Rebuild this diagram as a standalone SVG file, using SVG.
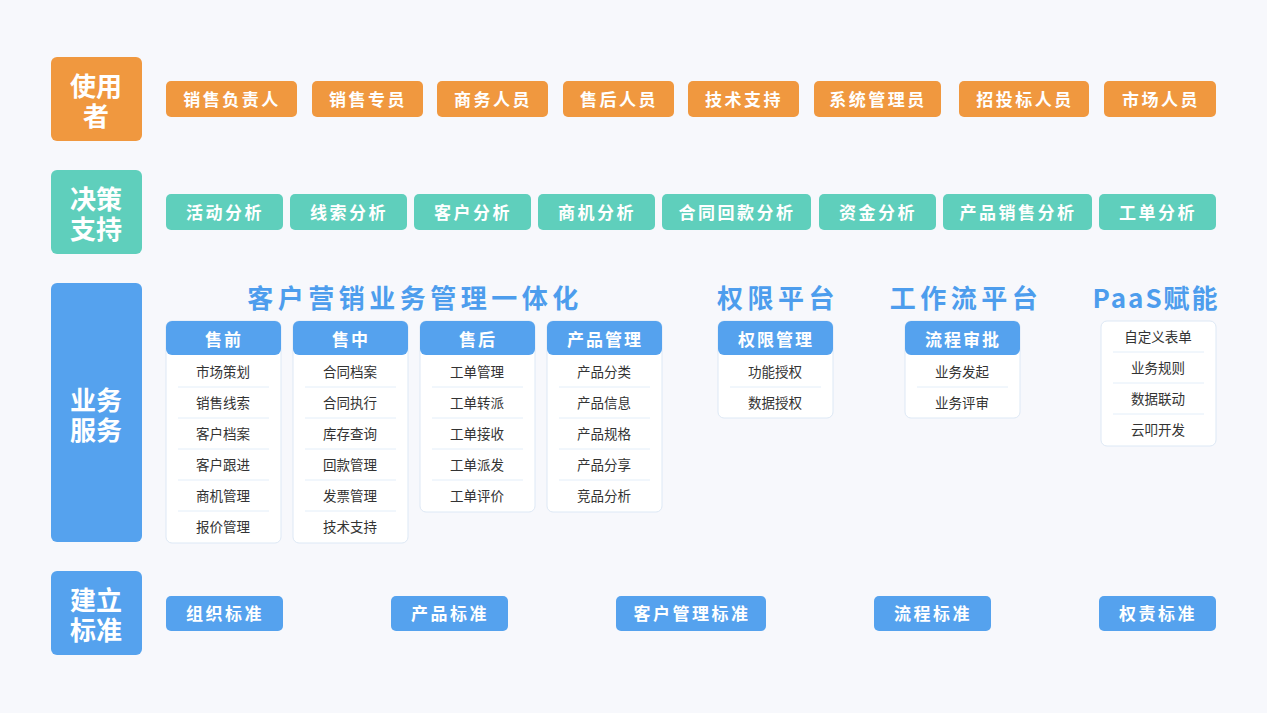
<svg xmlns="http://www.w3.org/2000/svg" width="1267" height="713" viewBox="0 0 1267 713">
<style>
text{font-family:"Noto Sans CJK SC","Noto Sans",sans-serif;text-anchor:middle;dominant-baseline:central}
.o{fill:#f0983f}.t{fill:#5fcfbc}.b{fill:#55a2ee}
.big{fill:#fff;font-size:26px;font-weight:bold}
.btn{fill:#fff;font-size:17px;font-weight:bold;letter-spacing:2.5px}
.ttl{fill:#4d9ded;font-size:26px;font-weight:bold;letter-spacing:4.5px}
.card{fill:#fff;stroke:#dde8f5;stroke-width:1}
.hd{fill:#fff;font-size:17px;font-weight:bold;letter-spacing:2px}
.it{fill:#333;font-size:13.5px}
.sep{stroke:#e3eef9;stroke-width:1}
</style>
<rect width="1267" height="713" fill="#f7f8fc"/>
<g id="row-users">
<rect class="o" x="51" y="57" width="91" height="84" rx="6"/><text class="big" x="96" y="84">使用</text><text class="big" x="96" y="114">者</text>
<g id="u1"><rect class="o" x="166" y="81" width="131" height="36" rx="5"/><text class="btn" x="232" y="98">销售负责人</text></g>
<g id="u2"><rect class="o" x="312" y="81" width="111" height="36" rx="5"/><text class="btn" x="368" y="98">销售专员</text></g>
<g id="u3"><rect class="o" x="437" y="81" width="111" height="36" rx="5"/><text class="btn" x="493" y="98">商务人员</text></g>
<g id="u4"><rect class="o" x="563" y="81" width="111" height="36" rx="5"/><text class="btn" x="619" y="98">售后人员</text></g>
<g id="u5"><rect class="o" x="688" y="81" width="111" height="36" rx="5"/><text class="btn" x="744" y="98">技术支持</text></g>
<g id="u6"><rect class="o" x="814" y="81" width="127" height="36" rx="5"/><text class="btn" x="878" y="98">系统管理员</text></g>
<g id="u7"><rect class="o" x="959" y="81" width="130" height="36" rx="5"/><text class="btn" x="1025" y="98">招投标人员</text></g>
<g id="u8"><rect class="o" x="1104" y="81" width="112" height="36" rx="5"/><text class="btn" x="1161" y="98">市场人员</text></g>
</g>
<g id="row-decision">
<rect class="t" x="51" y="170" width="91" height="84" rx="6"/><text class="big" x="96" y="197">决策</text><text class="big" x="96" y="227">支持</text>
<g id="d1"><rect class="t" x="166" y="194" width="117" height="36" rx="5"/><text class="btn" x="225" y="211">活动分析</text></g>
<g id="d2"><rect class="t" x="290" y="194" width="117" height="36" rx="5"/><text class="btn" x="349" y="211">线索分析</text></g>
<g id="d3"><rect class="t" x="414" y="194" width="117" height="36" rx="5"/><text class="btn" x="473" y="211">客户分析</text></g>
<g id="d4"><rect class="t" x="538" y="194" width="117" height="36" rx="5"/><text class="btn" x="597" y="211">商机分析</text></g>
<g id="d5"><rect class="t" x="662" y="194" width="149" height="36" rx="5"/><text class="btn" x="737" y="211">合同回款分析</text></g>
<g id="d6"><rect class="t" x="819" y="194" width="117" height="36" rx="5"/><text class="btn" x="878" y="211">资金分析</text></g>
<g id="d7"><rect class="t" x="943" y="194" width="149" height="36" rx="5"/><text class="btn" x="1018" y="211">产品销售分析</text></g>
<g id="d8"><rect class="t" x="1099" y="194" width="117" height="36" rx="5"/><text class="btn" x="1158" y="211">工单分析</text></g>
</g>
<g id="row-service">
<rect class="b" x="51" y="283" width="91" height="259" rx="6"/><text class="big" x="96" y="398">业务</text><text class="big" x="96" y="428">服务</text>
<text class="ttl" x="415" y="296">客户营销业务管理一体化</text>
<text class="ttl" x="778" y="296">权限平台</text>
<text class="ttl" x="966" y="296">工作流平台</text>
<text class="ttl" x="1156" y="296" style="letter-spacing:2px">PaaS赋能</text>
<g id="c1"><rect class="card" x="166" y="321" width="115" height="222" rx="6"/><rect class="b" x="166" y="321" width="115" height="34" rx="6"/><text class="hd" x="224" y="338">售前</text>
<line class="sep" x1="178" x2="269" y1="387" y2="387"/><line class="sep" x1="178" x2="269" y1="418" y2="418"/><line class="sep" x1="178" x2="269" y1="449" y2="449"/><line class="sep" x1="178" x2="269" y1="480" y2="480"/><line class="sep" x1="178" x2="269" y1="511" y2="511"/>
<text class="it" x="223" y="371">市场策划</text><text class="it" x="223" y="402">销售线索</text><text class="it" x="223" y="433">客户档案</text><text class="it" x="223" y="464">客户跟进</text><text class="it" x="223" y="495">商机管理</text><text class="it" x="223" y="526">报价管理</text></g>
<g id="c2"><rect class="card" x="293" y="321" width="115" height="222" rx="6"/><rect class="b" x="293" y="321" width="115" height="34" rx="6"/><text class="hd" x="351" y="338">售中</text>
<line class="sep" x1="305" x2="396" y1="387" y2="387"/><line class="sep" x1="305" x2="396" y1="418" y2="418"/><line class="sep" x1="305" x2="396" y1="449" y2="449"/><line class="sep" x1="305" x2="396" y1="480" y2="480"/><line class="sep" x1="305" x2="396" y1="511" y2="511"/>
<text class="it" x="350" y="371">合同档案</text><text class="it" x="350" y="402">合同执行</text><text class="it" x="350" y="433">库存查询</text><text class="it" x="350" y="464">回款管理</text><text class="it" x="350" y="495">发票管理</text><text class="it" x="350" y="526">技术支持</text></g>
<g id="c3"><rect class="card" x="420" y="321" width="115" height="191" rx="6"/><rect class="b" x="420" y="321" width="115" height="34" rx="6"/><text class="hd" x="478" y="338">售后</text>
<line class="sep" x1="432" x2="523" y1="387" y2="387"/><line class="sep" x1="432" x2="523" y1="418" y2="418"/><line class="sep" x1="432" x2="523" y1="449" y2="449"/><line class="sep" x1="432" x2="523" y1="480" y2="480"/>
<text class="it" x="477" y="371">工单管理</text><text class="it" x="477" y="402">工单转派</text><text class="it" x="477" y="433">工单接收</text><text class="it" x="477" y="464">工单派发</text><text class="it" x="477" y="495">工单评价</text></g>
<g id="c4"><rect class="card" x="547" y="321" width="115" height="191" rx="6"/><rect class="b" x="547" y="321" width="115" height="34" rx="6"/><text class="hd" x="605" y="338">产品管理</text>
<line class="sep" x1="559" x2="650" y1="387" y2="387"/><line class="sep" x1="559" x2="650" y1="418" y2="418"/><line class="sep" x1="559" x2="650" y1="449" y2="449"/><line class="sep" x1="559" x2="650" y1="480" y2="480"/>
<text class="it" x="604" y="371">产品分类</text><text class="it" x="604" y="402">产品信息</text><text class="it" x="604" y="433">产品规格</text><text class="it" x="604" y="464">产品分享</text><text class="it" x="604" y="495">竞品分析</text></g>
<g id="c5"><rect class="card" x="718" y="321" width="115" height="97" rx="6"/><rect class="b" x="718" y="321" width="115" height="34" rx="6"/><text class="hd" x="776" y="338">权限管理</text>
<line class="sep" x1="730" x2="821" y1="387" y2="387"/>
<text class="it" x="775" y="371">功能授权</text><text class="it" x="775" y="402">数据授权</text></g>
<g id="c6"><rect class="card" x="905" y="321" width="115" height="97" rx="6"/><rect class="b" x="905" y="321" width="115" height="34" rx="6"/><text class="hd" x="963" y="338">流程审批</text>
<line class="sep" x1="917" x2="1008" y1="387" y2="387"/>
<text class="it" x="962" y="371">业务发起</text><text class="it" x="962" y="402">业务评审</text></g>
<g id="c7"><rect class="card" x="1101" y="321" width="115" height="125" rx="6"/>
<line class="sep" x1="1113" x2="1204" y1="352" y2="352"/><line class="sep" x1="1113" x2="1204" y1="383" y2="383"/><line class="sep" x1="1113" x2="1204" y1="414" y2="414"/>
<text class="it" x="1158" y="336">自定义表单</text><text class="it" x="1158" y="367">业务规则</text><text class="it" x="1158" y="398">数据联动</text><text class="it" x="1158" y="429">云叩开发</text></g>
</g>
<g id="row-standard">
<rect class="b" x="51" y="571" width="91" height="84" rx="6"/><text class="big" x="96" y="598">建立</text><text class="big" x="96" y="628">标准</text>
<g id="s1"><rect class="b" x="166" y="596" width="117" height="35" rx="5"/><text class="btn" x="225" y="612">组织标准</text></g>
<g id="s2"><rect class="b" x="391" y="596" width="117" height="35" rx="5"/><text class="btn" x="450" y="612">产品标准</text></g>
<g id="s3"><rect class="b" x="616" y="596" width="150" height="35" rx="5"/><text class="btn" x="692" y="612">客户管理标准</text></g>
<g id="s4"><rect class="b" x="874" y="596" width="117" height="35" rx="5"/><text class="btn" x="933" y="612">流程标准</text></g>
<g id="s5"><rect class="b" x="1099" y="596" width="117" height="35" rx="5"/><text class="btn" x="1158" y="612">权责标准</text></g>
</g>
<g id="connectors"/>
</svg>
